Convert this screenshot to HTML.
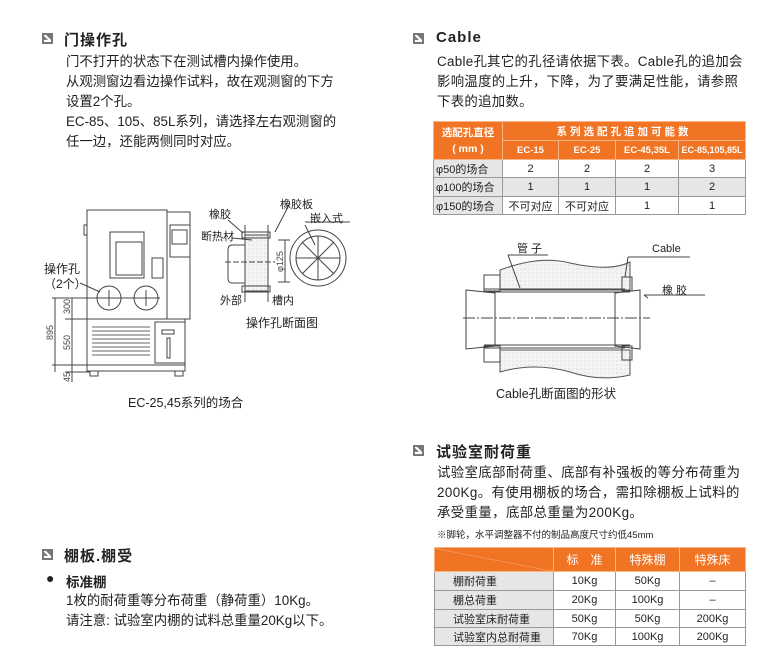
<!DOCTYPE html>
<html><head><meta charset="utf-8"><style>
body{margin:0;width:780px;height:662px;background:#fff;position:relative;overflow:hidden;font-family:"Liberation Sans","Noto Sans CJK SC",sans-serif;color:#222}
.a{position:absolute;white-space:nowrap}
.h{font-size:15px;font-weight:bold;letter-spacing:1px}
.t{font-size:13.4px;line-height:20px}
.ic{position:absolute;width:11px;height:11px;background:#777;}
.ic:after{content:"";position:absolute;left:2px;top:2px;width:7px;height:7px;background:#fff;clip-path:polygon(0 0,30% 0,100% 70%,100% 100%,0 100%,0 70%,60% 70%,0 15%)}
table{position:absolute;border-collapse:collapse;font-size:11px;text-align:center;table-layout:fixed}
td{border:1px solid #999;padding:0;white-space:nowrap;overflow:hidden}
.o td.hd{background:#f07424;color:#fff;font-weight:bold;border-color:#f7b585}
</style></head><body>
<div class="ic" style="left:42px;top:33px"></div>
<div class="a h" style="left:64px;top:29px">门操作孔</div>
<div class="a t" style="left:66px;top:52px">门不打开的状态下在测试槽内操作使用。<br>从观测窗边看边操作试料，故在观测窗的下方<br>设置2个孔。<br>EC-85、105、85L系列，请选择左右观测窗的<br>任一边，还能两侧同时对应。</div>

<div class="ic" style="left:413px;top:33px"></div>
<div class="a h" style="left:436px;top:29px">Cable</div>
<div class="a t" style="left:437px;top:52px;letter-spacing:0.3px">Cable孔其它的孔径请依据下表。Cable孔的追加会<br>影响温度的上升，下降，为了要满足性能，请参照<br>下表的追加数。</div>

<table class="o" style="left:433px;top:121px;width:312px">
<colgroup><col style="width:69px"><col style="width:56px"><col style="width:57px"><col style="width:63px"><col style="width:67px"></colgroup>
<tr style="height:19px"><td class="hd" rowspan="2" style="line-height:16px;font-size:10.5px">选配孔直径<br>( mm )</td><td class="hd" colspan="4" style="letter-spacing:3px;font-size:10.5px">系列选配孔追加可能数</td></tr>
<tr style="height:19px;font-size:9.5px"><td class="hd">EC-15</td><td class="hd">EC-25</td><td class="hd">EC-45,35L</td><td class="hd" style="font-size:9px">EC-85,105,85L</td></tr>
<tr style="height:18px;background:#fff"><td style="background:#e6e6e6;text-align:left;padding-left:2px">φ50的场合</td><td>2</td><td>2</td><td>2</td><td>3</td></tr>
<tr style="height:19px;background:#e6e6e6"><td style="text-align:left;padding-left:2px">φ100的场合</td><td>1</td><td>1</td><td>1</td><td>2</td></tr>
<tr style="height:18px;background:#fff"><td style="background:#e6e6e6;text-align:left;padding-left:2px">φ150的场合</td><td>不可对应</td><td>不可对应</td><td>1</td><td>1</td></tr>
</table>

<svg class="a" style="left:0;top:0" width="780" height="662" viewBox="0 0 780 662" fill="none" stroke="#444" stroke-width="1">
<defs><pattern id="dt" width="4" height="4" patternUnits="userSpaceOnUse"><rect width="4" height="4" fill="#f4f4f4" stroke="none"/><circle cx="1" cy="1" r="0.5" fill="#bbb" stroke="none"/></pattern></defs>
<rect x="87" y="210" width="80" height="109"/>
<rect x="167" y="212" width="23" height="107"/>
<rect x="84" y="225" width="3" height="10"/>
<rect x="110" y="232" width="34" height="46"/>
<rect x="116" y="242" width="26" height="33"/>
<rect x="152" y="258" width="11" height="20"/>
<rect x="170" y="225" width="20" height="32"/><rect x="172" y="230" width="15" height="14"/>
<circle cx="109" cy="298" r="12"/><circle cx="146" cy="298" r="12"/>
<line x1="109" y1="290" x2="109" y2="306"/><line x1="146" y1="290" x2="146" y2="306"/>
<rect x="87" y="319" width="98" height="46"/>
<rect x="155" y="322" width="30" height="41"/>
<rect x="162" y="330" width="12" height="4"/><rect x="167" y="338" width="3" height="20"/>
<g stroke="#666"><line x1="92" y1="327" x2="150" y2="327"/><line x1="92" y1="331" x2="150" y2="331"/><line x1="92" y1="335" x2="150" y2="335"/><line x1="92" y1="339" x2="150" y2="339"/><line x1="92" y1="343" x2="150" y2="343"/><line x1="92" y1="347" x2="150" y2="347"/><line x1="92" y1="351" x2="150" y2="351"/><line x1="92" y1="355" x2="150" y2="355"/></g>
<rect x="87" y="365" width="98" height="6"/>
<rect x="90" y="371" width="8" height="5"/><rect x="175" y="371" width="8" height="5"/>
<line x1="52" y1="298" x2="160" y2="298"/>
<line x1="55" y1="298" x2="55" y2="372"/><line x1="72" y1="298" x2="72" y2="382"/>
<line x1="65" y1="319" x2="87" y2="319"/><line x1="52" y1="365" x2="87" y2="365"/><line x1="65" y1="372" x2="90" y2="372"/>
<line x1="80" y1="283" x2="100" y2="292"/>
<g fill="#444" stroke="none" font-size="9" font-family="Liberation Sans">
<text transform="translate(53,340) rotate(-90)">895</text>
<text transform="translate(70,314) rotate(-90)">300</text>
<text transform="translate(70,350) rotate(-90)">550</text>
<text transform="translate(70,382) rotate(-90)">45</text>
</g>
<rect x="245" y="235" width="23" height="56" fill="url(#dt)"/>
<rect x="242" y="232" width="28" height="6"/><rect x="242" y="286" width="28" height="6"/>
<path d="M245 225 L245 235 M268 225 L268 235 M245 291 L245 302 M268 291 L268 302"/>
<path d="M245 245 L232 245 Q228 245 228 250 L228 278 Q228 283 232 283 L245 283"/>
<line x1="225" y1="262" x2="275" y2="262" stroke-dasharray="6 2"/>
<line x1="278" y1="240" x2="290" y2="240"/><line x1="278" y1="282" x2="290" y2="282"/><line x1="285" y1="240" x2="285" y2="282"/>
<circle cx="318" cy="258" r="28"/><circle cx="318" cy="258" r="22"/>
<path d="M296 258 L340 258 M318 236 L318 280 M302 242 L334 274 M334 242 L302 274"/>
<path d="M228 220 L243 233 M232 238 L252 240 M305 225 L315 245 M290 203 L275 232"/>
<line x1="305" y1="222" x2="350" y2="222"/>
<g fill="#444" stroke="none" font-size="9" font-family="Liberation Sans"><text transform="translate(283,272) rotate(-90)">φ125</text></g>
<path d="M500 270 Q540 255 570 263 Q610 272 630 262 L630 290 L500 290 Z" fill="url(#dt)" stroke="#555"/>
<path d="M500 350 L630 350 L630 375 Q600 382 570 372 Q535 362 500 372 Z" fill="url(#dt)" stroke="#555"/>
<rect x="484" y="275" width="16" height="16"/><rect x="484" y="346" width="16" height="16"/>
<rect x="622" y="277" width="10" height="14"/><rect x="622" y="346" width="10" height="14"/>
<line x1="484" y1="289" x2="625" y2="289"/><line x1="484" y1="348" x2="625" y2="348"/>
<line x1="484" y1="292" x2="630" y2="292"/><line x1="484" y1="345" x2="630" y2="345"/>
<path d="M466 290 L495 293 L495 346 L466 349 Z"/>
<path d="M640 290 L615 293 L615 346 L640 349 Z"/>
<line x1="463" y1="318" x2="650" y2="318" stroke-dasharray="12 2 2 2"/>
<path d="M508 255 L520 288 M508 255 L548 255 M628 257 L690 257 M628 257 L625 277 M644 295 L648 298 M644 295 L705 295"/>
</svg>

<div class="a" style="left:44px;top:262px;font-size:12px;line-height:15px">操作孔<br>（2个）</div>
<div class="a" style="left:280px;top:196px;font-size:11px">橡胶板</div>
<div class="a" style="left:209px;top:206px;font-size:11px">橡胶</div>
<div class="a" style="left:310px;top:210px;font-size:11px">嵌入式</div>
<div class="a" style="left:201px;top:228px;font-size:11px">断热材</div>
<div class="a" style="left:220px;top:292px;font-size:11px">外部</div>
<div class="a" style="left:272px;top:292px;font-size:11px">槽内</div>
<div class="a" style="left:246px;top:314px;font-size:12px">操作孔断面图</div>
<div class="a" style="left:128px;top:392px;font-size:12.5px">EC-25,45系列的场合</div>
<div class="a" style="left:517px;top:240px;font-size:11px">管 子</div>
<div class="a" style="left:652px;top:243px;font-size:11px">Cable</div>
<div class="a" style="left:662px;top:282px;font-size:11px">橡 胶</div>
<div class="a" style="left:496px;top:383px;font-size:12.5px">Cable孔断面图的形状</div>

<div class="ic" style="left:413px;top:445px"></div>
<div class="a h" style="left:436px;top:441px">试验室耐荷重</div>
<div class="a t" style="left:437px;top:463px;letter-spacing:0.4px">试验室底部耐荷重、底部有补强板的等分布荷重为<br>200Kg。有使用棚板的场合，需扣除棚板上试料的<br>承受重量，底部总重量为200Kg。</div>
<div class="a" style="left:437px;top:527px;font-size:9.5px">※脚轮，水平调整器不付的制品高度尺寸约低45mm</div>

<table class="o" style="left:434px;top:547px;width:311px">
<colgroup><col style="width:119px"><col style="width:62px"><col style="width:64px"><col style="width:66px"></colgroup>
<tr style="height:24px"><td class="hd" style="background:linear-gradient(to top right,#f07424 49%,#f7b585 50%,#f07424 51%)"></td><td class="hd" style="font-weight:normal;font-size:12px">标　准</td><td class="hd" style="font-weight:normal;font-size:12px">特殊棚</td><td class="hd" style="font-weight:normal;font-size:12px">特殊床</td></tr>
<tr style="height:19px"><td style="background:#e6e6e6;text-align:left;padding-left:18px">棚耐荷重</td><td>10Kg</td><td>50Kg</td><td>–</td></tr>
<tr style="height:19px;background:#e6e6e6"><td style="text-align:left;padding-left:18px">棚总荷重</td><td style="background:#fff">20Kg</td><td style="background:#fff">100Kg</td><td style="background:#fff">–</td></tr>
<tr style="height:18px"><td style="background:#e6e6e6;text-align:left;padding-left:18px">试验室床耐荷重</td><td>50Kg</td><td>50Kg</td><td>200Kg</td></tr>
<tr style="height:18px"><td style="background:#e6e6e6;text-align:left;padding-left:18px">试验室内总耐荷重</td><td>70Kg</td><td>100Kg</td><td>200Kg</td></tr>
</table>

<div class="ic" style="left:42px;top:549px"></div>
<div class="a h" style="left:64px;top:545px">棚板.棚受</div>
<div class="a" style="left:46px;top:570px;font-size:14px">●</div>
<div class="a" style="left:66px;top:571px;font-size:13.5px;font-weight:bold">标准棚</div>
<div class="a t" style="left:66px;top:591px">1枚的耐荷重等分布荷重（静荷重）10Kg。<br>请注意: 试验室内棚的试料总重量20Kg以下。</div>
</body></html>
